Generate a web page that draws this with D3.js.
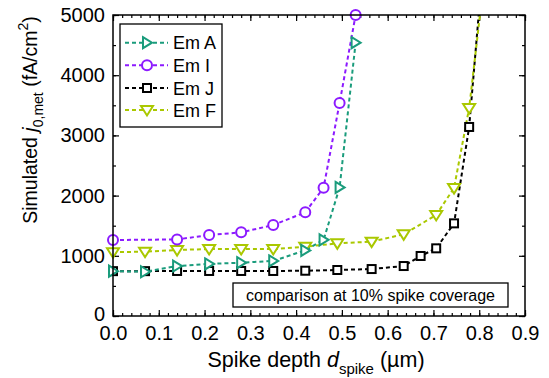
<!DOCTYPE html>
<html>
<head>
<meta charset="utf-8">
<script src="https://cdn.jsdelivr.net/npm/d3@7"></script>
<style>
  html, body { margin: 0; padding: 0; background: #fff; }
  svg { display: block; font-family: "Liberation Sans", Arial, Helvetica, sans-serif; }
</style>
</head>
<body>
<svg id="chart" width="549" height="378"></svg>
<script>
// Spike depth (µm) and simulated j0,met (fA/cm²) for each emitter
const depthA = [0, 0.07, 0.14, 0.21, 0.28, 0.35, 0.42, 0.46, 0.495, 0.53];
const j0A    = [745, 735, 830, 865, 885, 915, 1090, 1265, 2135, 4540];

const depthI = [0, 0.14, 0.21, 0.28, 0.35, 0.42, 0.46, 0.495, 0.53];
const j0I    = [1262, 1272, 1345, 1390, 1510, 1722, 2130, 3540, 5000];

const depthJ = [0, 0.07, 0.14, 0.21, 0.28, 0.35, 0.42, 0.49, 0.565, 0.635, 0.672, 0.706, 0.745, 0.778, 0.81];
const j0J    = [745, 745, 748, 748, 748, 748, 752, 764, 780, 830, 997, 1124, 1539, 3140, 6000];

const depthF = [0, 0.07, 0.14, 0.21, 0.28, 0.35, 0.42, 0.49, 0.565, 0.635, 0.706, 0.745, 0.778, 0.82];
const j0F    = [1060, 1068, 1096, 1113, 1113, 1113, 1151, 1207, 1235, 1357, 1678, 2126, 3455, 6200];

const seriesNames = ["Em A", "Em I", "Em J", "Em F"];
const xTicks = [0, 0.1, 0.2, 0.3, 0.4, 0.5, 0.6, 0.7, 0.8, 0.9];
const yTicks = [0, 1000, 2000, 3000, 4000, 5000];
const noteText = "comparison at 10% spike coverage";

const series = [
  { name: seriesNames[0], xs: depthA, ys: j0A, color: "#1a9c7c", shape: "right" },
  { name: seriesNames[1], xs: depthI, ys: j0I, color: "#8c1aff", shape: "circle" },
  { name: seriesNames[2], xs: depthJ, ys: j0J, color: "#000000", shape: "square" },
  { name: seriesNames[3], xs: depthF, ys: j0F, color: "#aac800", shape: "down" }
];

const svg = d3.select("#chart");
const L = 113, R = 525, T = 15, B = 316;

const x = d3.scaleLinear().domain([0, 0.9]).range([L, R]);
const y = d3.scaleLinear().domain([0, 5000]).range([B, T]);

const xMinor = d3.range(0, 0.9001, 0.02).map(v => +v.toFixed(2));
const yMinor = d3.range(0, 5001, 500);

svg.append("defs").append("clipPath").attr("id", "plotClip")
  .append("rect").attr("x", L).attr("y", T).attr("width", R - L).attr("height", B - T);

// axes: ticks point inward on all four sides
function styleAxis(g) {
  g.select(".domain").remove();
  g.selectAll(".tick line").attr("stroke", "#000").attr("stroke-width", 1.2);
}
const fmtX = d3.format(".1f");

svg.append("g").attr("transform", `translate(0,${B})`)
  .call(d3.axisBottom(x).tickValues(xMinor).tickSize(-3).tickFormat(""))
  .call(styleAxis);
svg.append("g").attr("transform", `translate(0,${B})`)
  .call(d3.axisBottom(x).tickValues(xTicks).tickSize(-6).tickPadding(10).tickFormat(fmtX))
  .call(styleAxis)
  .call(g => g.selectAll("text").attr("fill", "#000").attr("font-size", "20px").attr("font-family", null));

svg.append("g").attr("transform", `translate(0,${T})`)
  .call(d3.axisTop(x).tickValues(xMinor).tickSize(-3).tickFormat(""))
  .call(styleAxis);
svg.append("g").attr("transform", `translate(0,${T})`)
  .call(d3.axisTop(x).tickValues(xTicks).tickSize(-6).tickFormat(""))
  .call(styleAxis);

svg.append("g").attr("transform", `translate(${L},0)`)
  .call(d3.axisLeft(y).tickValues(yMinor).tickSize(-3).tickFormat(""))
  .call(styleAxis);
svg.append("g").attr("transform", `translate(${L},0)`)
  .call(d3.axisLeft(y).tickValues(yTicks).tickSize(-6).tickPadding(8).tickFormat(d3.format("d")))
  .call(styleAxis)
  .call(g => g.selectAll("text").attr("fill", "#000").attr("font-size", "20px").attr("font-family", null)
    .attr("dy", d => d === 0 ? "0.2em" : "0.32em"));

svg.append("g").attr("transform", `translate(${R},0)`)
  .call(d3.axisRight(y).tickValues(yMinor).tickSize(-3).tickFormat(""))
  .call(styleAxis);
svg.append("g").attr("transform", `translate(${R},0)`)
  .call(d3.axisRight(y).tickValues(yTicks).tickSize(-6).tickFormat(""))
  .call(styleAxis);

// marker shapes
function drawMarker(g, shape, cx, cy, color) {
  const sw = 2;
  if (shape === "circle") {
    g.append("circle").attr("cx", cx).attr("cy", cy).attr("r", 5)
      .attr("fill", "#fff").attr("stroke", color).attr("stroke-width", sw);
  } else if (shape === "square") {
    g.append("rect").attr("x", cx - 4).attr("y", cy - 4).attr("width", 8).attr("height", 8)
      .attr("fill", "#fff").attr("stroke", color).attr("stroke-width", sw);
  } else if (shape === "right") {
    const pts = [[cx - 4, cy - 5.5], [cx + 5, cy], [cx - 4, cy + 5.5]];
    g.append("polygon").attr("points", pts.map(p => p.join(",")).join(" "))
      .attr("fill", "#fff").attr("stroke", color).attr("stroke-width", sw).attr("stroke-linejoin", "miter");
  } else if (shape === "down") {
    const pts = [[cx - 6, cy - 4], [cx + 6, cy - 4], [cx, cy + 5.5]];
    g.append("polygon").attr("points", pts.map(p => p.join(",")).join(" "))
      .attr("fill", "#fff").attr("stroke", color).attr("stroke-width", sw).attr("stroke-linejoin", "miter");
  }
}

const line = d3.line().x(d => x(d[0])).y(d => y(d[1]));
const drawOrder = [2, 3, 1, 0];

drawOrder.forEach(i => {
  const s = series[i];
  const pts = s.xs.map((v, k) => [v, s.ys[k]]);
  svg.append("path").datum(pts)
    .attr("clip-path", "url(#plotClip)")
    .attr("d", line)
    .attr("fill", "none").attr("stroke", s.color).attr("stroke-width", 2)
    .attr("stroke-dasharray", "4,3");
});
drawOrder.forEach(i => {
  const s = series[i];
  const g = svg.append("g");
  s.xs.forEach((v, k) => {
    if (s.ys[k] <= 5000) drawMarker(g, s.shape, x(v), y(s.ys[k]), s.color);
  });
});

// frame
svg.append("rect").attr("x", L).attr("y", T).attr("width", R - L).attr("height", B - T)
  .attr("fill", "none").attr("stroke", "#000").attr("stroke-width", 1.5);

// legend
const lg = svg.append("g");
lg.append("rect").attr("x", 120).attr("y", 24).attr("width", 102).attr("height", 103)
  .attr("fill", "#fff").attr("stroke", "#000").attr("stroke-width", 1.3);
const legendY = [42.7, 65.3, 88, 110];
series.forEach((s, i) => {
  const ly = legendY[i];
  lg.append("line").attr("x1", 125).attr("x2", 168).attr("y1", ly).attr("y2", ly)
    .attr("stroke", s.color).attr("stroke-width", 2).attr("stroke-dasharray", "4,3");
  drawMarker(lg, s.shape, 147, ly, s.color);
  lg.append("text").attr("x", 173).attr("y", ly + 6.5).attr("font-size", "18px").text(s.name);
});

// annotation box
svg.append("rect").attr("x", 233).attr("y", 283).attr("width", 275).attr("height", 24)
  .attr("fill", "#fff").attr("stroke", "#000").attr("stroke-width", 1.3);
svg.append("text").attr("x", 370.5).attr("y", 300.5).attr("text-anchor", "middle")
  .attr("font-size", "16px").text(noteText);

// x-axis title
const xt = svg.append("text").attr("x", 316).attr("y", 367).attr("text-anchor", "middle").attr("font-size", "21.5px");
xt.append("tspan").text("Spike depth ");
xt.append("tspan").attr("font-style", "italic").text("d");
xt.append("tspan").attr("font-size", "15px").attr("dy", 7).text("spike");
xt.append("tspan").attr("dy", -7).text(" (\u00b5m)");

// y-axis title
const yt = svg.append("text").attr("transform", "translate(37,120) rotate(-90)")
  .attr("text-anchor", "middle").attr("font-size", "19.5px");
yt.append("tspan").text("Simulated ");
yt.append("tspan").attr("font-style", "italic").text("j");
yt.append("tspan").attr("font-size", "14px").attr("dy", 6).text("0,met");
yt.append("tspan").attr("dy", -6).text(" (fA/cm");
yt.append("tspan").attr("font-size", "14px").attr("dy", -9).text("2");
yt.append("tspan").attr("dy", 9).text(")");
</script>
</body>
</html>
